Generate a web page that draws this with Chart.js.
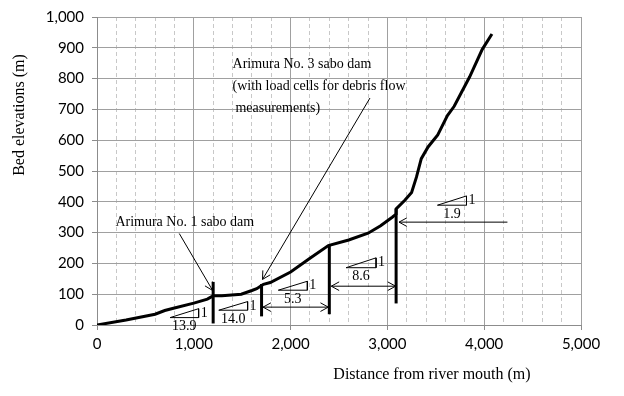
<!DOCTYPE html>
<html>
<head>
<meta charset="utf-8">
<script src="https://cdn.jsdelivr.net/npm/chart.js@4"></script>
<style>
  html, body { margin: 0; padding: 0; background: #fff; }
  #wrap { width: 624px; height: 396px; }
</style>
</head>
<body>
<div id="wrap"><canvas id="profileChart"></canvas></div>
<script>
// bed profile (m)
const distance = [0, 300, 600, 700, 800, 1000, 1140, 1190, 1200, 1290, 1490, 1600, 1650, 1700, 1720, 1790,
    2000, 2200, 2390, 2600, 2800, 2930, 3050, 3090, 3090, 3180, 3250, 3300, 3350, 3420, 3520, 3620, 3690,
    3850, 3980, 4080];
const elevation = [0, 16, 35, 47, 55, 71, 84, 93, 95, 95, 100, 112, 118, 128, 132, 138,
    172, 217, 258, 276, 298, 322, 350, 360, 377, 405, 430, 480, 540, 578, 617, 680, 710,
    806, 895, 945];

// sabo dams
const damDistance = [1200, 1700, 2400, 3090];
const damTop = [140, 133, 260, 377];
const damBase = [5, 28, 35, 70];

// gradient triangles (run : 1)
const slopeRun = ["13.9", "14.0", "5.3", "8.6", "1.9"];
const slopeStart = [755, 1258, 1873, 2573, 3517];
const slopeEnd = [1050, 1556, 2173, 2883, 3817];
const slopeLow = [24, 48, 113, 186, 389];
const slopeHigh = [53, 76, 142, 218, 419];

// reach arrows
const reachFrom = [1715, 2420, 4240];
const reachTo = [2390, 3085, 3120];
const reachLevel = [58, 126, 334];
const reachBothEnds = [true, true, false];

// leader arrows pointing at the dams
const leaderFromX = [850, 2820];
const leaderFromY = [297, 737];
const leaderToX = [1195, 1710];
const leaderToY = [112, 148];

// axis ticks
const xMax = 5000, xStep = 1000, xMinorStep = 200;
const yMax = 1000, yStep = 100;

const notes = [
    { text: "Arimura No. 1 sabo dam", x: 190, y: 333 },
    { text: "Arimura No. 3 sabo dam", x: 1400, y: 845 },
    { text: "(with load cells for debris flow", x: 1400, y: 775 },
    { text: "measurements)", x: 1430, y: 705 }
];

const serif = "'Liberation Serif', 'Times New Roman', serif";
const sans = "Lato, 'Liberation Sans', sans-serif";

function seg(points, width) {
    return {
        data: points,
        showLine: true,
        borderColor: "#000",
        borderWidth: width,
        pointRadius: 0,
        tension: 0
    };
}

const datasets = [];
datasets.push(seg(distance.map((d, i) => ({ x: d, y: elevation[i] })), 3));
damDistance.forEach((d, i) => {
    datasets.push(seg([{ x: d, y: damBase[i] }, { x: d, y: damTop[i] }], 3));
});
slopeRun.forEach((r, i) => {
    datasets.push(seg([
        { x: slopeStart[i], y: slopeLow[i] },
        { x: slopeEnd[i], y: slopeHigh[i] },
        { x: slopeEnd[i], y: slopeLow[i] },
        { x: slopeStart[i], y: slopeLow[i] }
    ], 1));
});
reachFrom.forEach((f, i) => {
    datasets.push(seg([{ x: f, y: reachLevel[i] }, { x: reachTo[i], y: reachLevel[i] }], 1));
});
leaderFromX.forEach((f, i) => {
    datasets.push(seg([{ x: f, y: leaderFromY[i] }, { x: leaderToX[i], y: leaderToY[i] }], 1));
});

function arrowHead(ctx, tipX, tipY, fromX, fromY) {
    const a = Math.atan2(tipY - fromY, tipX - fromX);
    const len = 9, spread = 0.5;
    ctx.beginPath();
    ctx.moveTo(tipX - len * Math.cos(a - spread), tipY - len * Math.sin(a - spread));
    ctx.lineTo(tipX, tipY);
    ctx.lineTo(tipX - len * Math.cos(a + spread), tipY - len * Math.sin(a + spread));
    ctx.stroke();
}

const annotate = {
    id: "annotate",
    afterDatasetsDraw(chart) {
        const { ctx, scales: { x, y } } = chart;
        ctx.save();
        ctx.strokeStyle = "#000";
        ctx.fillStyle = "#000";
        ctx.lineWidth = 1;

        // arrow heads
        reachFrom.forEach((f, i) => {
            const yy = y.getPixelForValue(reachLevel[i]);
            const x0 = x.getPixelForValue(f), x1 = x.getPixelForValue(reachTo[i]);
            arrowHead(ctx, x1, yy, x0, yy);
            if (reachBothEnds[i]) arrowHead(ctx, x0, yy, x1, yy);
        });
        leaderFromX.forEach((f, i) => {
            arrowHead(ctx,
                x.getPixelForValue(leaderToX[i]), y.getPixelForValue(leaderToY[i]),
                x.getPixelForValue(f), y.getPixelForValue(leaderFromY[i]));
        });

        // slope labels
        ctx.font = "14px " + serif;
        ctx.textBaseline = "middle";
        slopeRun.forEach((r, i) => {
            const xs = x.getPixelForValue(slopeStart[i]);
            const xe = x.getPixelForValue(slopeEnd[i]);
            const yl = y.getPixelForValue(slopeLow[i]);
            const yh = y.getPixelForValue(slopeHigh[i]);
            ctx.textAlign = "left";
            ctx.fillText("1", xe + 2, (yl + yh) / 2);
            ctx.textAlign = "center";
            ctx.fillText(r, (xs + xe) / 2, yl + 9);
        });

        // notes
        ctx.textAlign = "left";
        notes.forEach(n => {
            ctx.fillText(n.text, x.getPixelForValue(n.x), y.getPixelForValue(n.y));
        });
        ctx.restore();
    },
    afterDraw(chart) {
        const { ctx } = chart;
        ctx.save();
        ctx.fillStyle = "#000";
        ctx.font = "16px " + serif;
        ctx.textAlign = "center";
        ctx.textBaseline = "middle";
        ctx.fillText("Distance from river mouth (m)", 432, 375);
        ctx.translate(20, 115);
        ctx.rotate(-Math.PI / 2);
        ctx.fillText("Bed elevations (m)", 0, 0);
        ctx.restore();
    }
};

const fmt = v => Number(v).toLocaleString("en-US");

new Chart(document.getElementById("profileChart"), {
    type: "scatter",
    data: { datasets: datasets },
    options: {
        responsive: true,
        maintainAspectRatio: false,
        animation: false,
        layout: { padding: { left: 10, top: 15, right: 43, bottom: 0 } },
        plugins: {
            legend: { display: false },
            tooltip: { enabled: false }
        },
        scales: {
            xMinor: {
                type: "linear",
                position: "bottom",
                min: 0,
                max: xMax,
                ticks: { display: false, stepSize: xMinorStep },
                grid: {
                    color: c => (c.tick && c.tick.value % xStep === 0) ? "rgba(0,0,0,0)" : "#c8c8c8",
                    drawTicks: false,
                    borderDash: [4, 3]
                },
                border: { display: false, dash: [4, 3] },
                afterFit: s => { s.height = 0; }
            },
            x: {
                type: "linear",
                position: "bottom",
                min: 0,
                max: xMax,
                ticks: {
                    stepSize: xStep,
                    color: "#000",
                    font: { family: sans, size: 15 },
                    padding: 5,
                    maxRotation: 0,
                    callback: fmt
                },
                grid: { color: "#a0a0a0", tickLength: 5, tickColor: "#8c8c8c" },
                border: { color: "#8c8c8c", width: 1 },
                afterFit: s => { s.height = 71; }
            },
            y: {
                type: "linear",
                min: 0,
                max: yMax,
                ticks: {
                    stepSize: yStep,
                    color: "#000",
                    font: { family: sans, size: 15 },
                    padding: 8,
                    callback: fmt
                },
                grid: { color: "#a0a0a0", tickLength: 5, tickColor: "#8c8c8c" },
                border: { color: "#8c8c8c", width: 1 },
                afterFit: s => { s.width = 87; }
            }
        }
    },
    plugins: [annotate]
});
</script>
</body>
</html>
